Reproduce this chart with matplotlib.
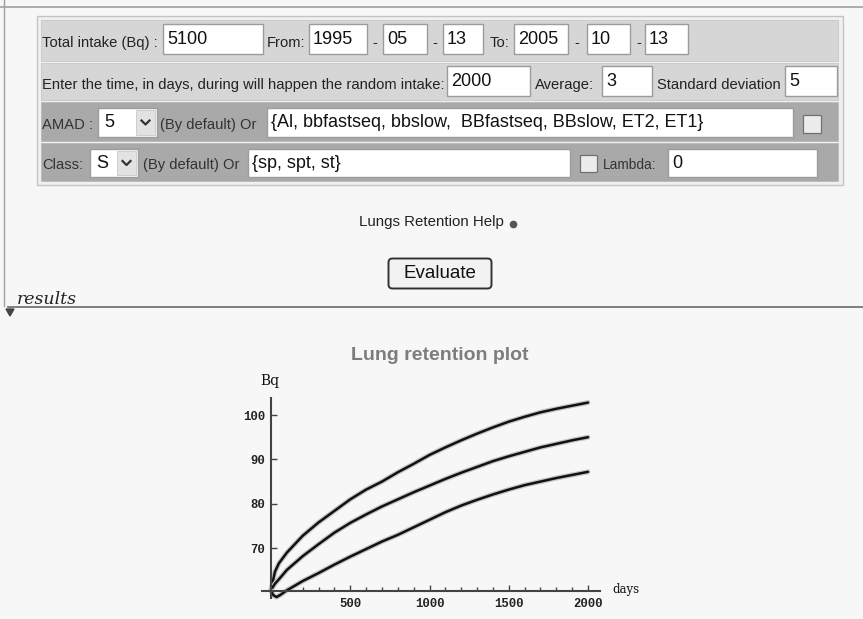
import matplotlib
matplotlib.use("Agg")
import matplotlib.pyplot as plt
from matplotlib.patches import Rectangle, Polygon, FancyBboxPatch

# ---- data (days, Bq) ----
days_top = [0, 25, 50, 100, 200, 300, 400, 500, 600, 700, 800, 900, 1000,
            1100, 1200, 1300, 1400, 1500, 1600, 1700, 1800, 1900, 2000]
bq_top = [60.6, 64.7, 66.6, 69.0, 72.8, 75.8, 78.4, 81.0, 83.2, 85.0, 87.1, 89.0, 91.0,
          92.7, 94.3, 95.8, 97.2, 98.5, 99.6, 100.6, 101.4, 102.1, 102.8]

days_mid = [0, 25, 50, 100, 200, 300, 400, 500, 600, 700, 800, 900, 1000,
            1100, 1200, 1300, 1400, 1500, 1600, 1700, 1800, 1900, 2000]
bq_mid = [60.6, 62.0, 63.0, 65.1, 68.2, 70.9, 73.5, 75.7, 77.6, 79.4, 81.0, 82.6, 84.1,
          85.6, 87.0, 88.3, 89.6, 90.7, 91.7, 92.7, 93.5, 94.3, 95.0]

days_low = [0, 15, 35, 60, 95, 200, 300, 400, 500, 600, 700, 800, 900, 1000,
            1100, 1200, 1300, 1400, 1500, 1600, 1700, 1800, 1900, 2000]
bq_low = [60.4, 59.4, 59.0, 59.5, 60.4, 62.6, 64.4, 66.3, 68.1, 69.8, 71.5, 73.0, 74.7, 76.4,
          78.1, 79.6, 80.9, 82.1, 83.2, 84.2, 85.0, 85.8, 86.5, 87.2]

x_ticks = [500, 1000, 1500, 2000]
y_ticks = [70, 80, 90, 100]

# form fields shown above the plot
row1_labels = [(42, "Total intake (Bq) :"), (267, "From:"), (372, "-"), (432, "-"), (490, "To:"), (574, "-"), (636, "-")]
row1_boxes = [(163, 263, "5100"), (309, 367, "1995"), (383, 427, "05"), (443, 483, "13"),
              (514, 568, "2005"), (587, 630, "10"), (645, 688, "13")]
row2_labels = [(42, "Enter the time, in days, during will happen the random intake:"), (535, "Average:"), (657, "Standard deviation")]
row2_boxes = [(447, 530, "2000"), (602, 652, "3"), (785, 837, "5")]

W, H = 863, 619
fig = plt.figure(figsize=(W / 100, H / 100), dpi=100)
fig.patch.set_facecolor("#f7f7f7")

# page layer in pixel coordinates
pg = fig.add_axes([0, 0, 1, 1])
pg.set_xlim(0, W)
pg.set_ylim(H, 0)
pg.axis("off")

SANS = "Liberation Sans"


def box(x0, x1, y0, y1, fc="white", ec="#9c9c9c", lw=1.0):
    pg.add_patch(Rectangle((x0, y0), x1 - x0, y1 - y0, facecolor=fc, edgecolor=ec, linewidth=lw))


def field(x0, x1, y0, y1, txt, size=13):
    box(x0, x1, y0, y1)
    pg.text(x0 + 4, (y0 + y1) / 2, txt, fontsize=size, family=SANS, color="#111111", va="center")


def label(x, y, txt, size=10.6, color="#222222"):
    pg.text(x, y, txt, fontsize=size, family=SANS, color=color, va="center")


def select(x0, x1, y0, y1, txt):
    box(x0, x1, y0, y1)
    pg.text(x0 + 6, (y0 + y1) / 2, txt, fontsize=13, family=SANS, color="#111111", va="center")
    bx0 = x1 - 21
    box(bx0, x1 - 2, y0 + 2, y1 - 2, fc="#e2e2e2", ec="#c8c8c8", lw=0.6)
    cx, cy = (bx0 + x1 - 2) / 2, (y0 + y1) / 2
    pg.plot([cx - 4, cx, cx + 4], [cy - 2, cy + 2, cy - 2], color="#333333", lw=1.6)


def checkbox(x0, y0, s):
    box(x0, x0 + s, y0, y0 + s, fc="#ececec", ec="#707070", lw=0.9)


# top rule and left border
pg.plot([0, W], [7, 7], color="#a0a0a0", lw=1.2)
pg.plot([4, 4], [0, 306], color="#a0a0a0", lw=1.0)

# form panel
box(37, 843, 16, 185, fc="#f0f0f0", ec="#c4c4c4")
box(41, 838, 20, 61, fc="#d6d6d6", ec="#c8c8c8", lw=0.6)
box(41, 838, 63, 100, fc="#d6d6d6", ec="#c8c8c8", lw=0.6)
box(41, 838, 102, 141, fc="#a9a9a9", ec="#b8b8b8", lw=0.6)
box(41, 838, 143, 181, fc="#a9a9a9", ec="#b8b8b8", lw=0.6)

for x, t in row1_labels:
    label(x, 43, t)
for x0, x1, t in row1_boxes:
    field(x0, x1, 24, 54, t)

for x, t in row2_labels:
    label(x, 85, t)
for x0, x1, t in row2_boxes:
    field(x0, x1, 66, 96, t)

label(42, 125, "AMAD :", color="#333333")
select(98, 157, 108, 137, "5")
label(160, 125, "(By default) Or", color="#333333")
field(267, 793, 108, 137, "{Al, bbfastseq, bbslow,  BBfastseq, BBslow, ET2, ET1}")
checkbox(803, 115, 18)

label(42, 165, "Class:", color="#333333")
select(90, 138, 149, 177, "S")
label(143, 165, "(By default) Or", color="#333333")
field(248, 570, 149, 177, "{sp, spt, st}")
checkbox(580, 155, 17)
label(603, 165, "Lambda:", size=9.8, color="#333333")
field(668, 817, 149, 177, "0")

# help link and button
pg.text(431, 222, "Lungs Retention Help", fontsize=10.8, family=SANS, color="#222222", ha="center", va="center")
pg.plot([513], [224], marker="o", ms=4.5, color="#555555")
pg.add_patch(FancyBboxPatch((390, 260), 100, 27, boxstyle="round,pad=1.5,rounding_size=4",
                            facecolor="#f2f2f2", edgecolor="#333333", linewidth=1.4))
pg.text(440, 273.5, "Evaluate", fontsize=13.5, family=SANS, color="#111111", ha="center", va="center")

# results divider
pg.plot([8, W], [307, 307], color="#6a6a6a", lw=1.2)
pg.text(17, 300, "results", fontsize=12.5, family="DejaVu Serif", style="italic", color="#222222", va="center")
pg.add_patch(Polygon([[6, 309], [14, 309], [10, 316]], closed=True, color="#444444"))

# chart title and axis names
pg.text(440, 356, "Lung retention plot", fontsize=14, family=SANS, weight="bold", color="#7d7d7d", ha="center", va="center")
pg.text(270, 381, "Bq", fontsize=10, family="DejaVu Serif", color="#111111", ha="center", va="center")
pg.text(612, 590, "days", fontsize=8.5, family="DejaVu Serif", color="#111111", va="center")

# plot axes placed by pixel box
X0, PXD = 271, 0.1585          # pixel of day 0, pixels per day
Y100, PXB = 415, 4.44          # pixel of 100 Bq, pixels per Bq
L, R, T, B = 250, 610, 390, 608
ax = fig.add_axes([L / W, 1 - B / H, (R - L) / W, (B - T) / H])
ax.set_xlim((L - X0) / PXD, (R - X0) / PXD)
ax.set_ylim(100 - (B - Y100) / PXB, 100 + (Y100 - T) / PXB)
ax.patch.set_alpha(0)

for d, v in [(days_top, bq_top), (days_mid, bq_mid), (days_low, bq_low)]:
    ax.plot(d, v, color="#c4c4c4", lw=3.6, solid_capstyle="round")
    ax.plot(d, v, color="#111111", lw=1.8, solid_capstyle="round")

for s in ["top", "right"]:
    ax.spines[s].set_visible(False)
ax.spines["left"].set_position(("data", 0))
ax.spines["bottom"].set_position(("data", 60.4))
ax.spines["left"].set_bounds(58.8, 103.8)
ax.spines["bottom"].set_bounds(-55, 2076)
for s in ["left", "bottom"]:
    ax.spines[s].set_color("#444444")
    ax.spines[s].set_linewidth(1.5)

ax.set_xticks(x_ticks)
ax.set_xticks(range(100, 2100, 100), minor=True)
ax.set_yticks(y_ticks)
ax.tick_params(axis="both", which="both", direction="in", color="#444444", width=1.0)
ax.tick_params(axis="both", which="major", length=4)
ax.tick_params(axis="x", which="minor", length=3)
ax.tick_params(axis="x", pad=5)
ax.tick_params(axis="y", pad=4)
for lab in ax.get_xticklabels() + ax.get_yticklabels():
    lab.set_family("Liberation Mono")
    lab.set_weight("bold")
    lab.set_fontsize(8.8)
    lab.set_color("#222222")

fig.savefig("out.png", dpi=100, facecolor=fig.get_facecolor())
